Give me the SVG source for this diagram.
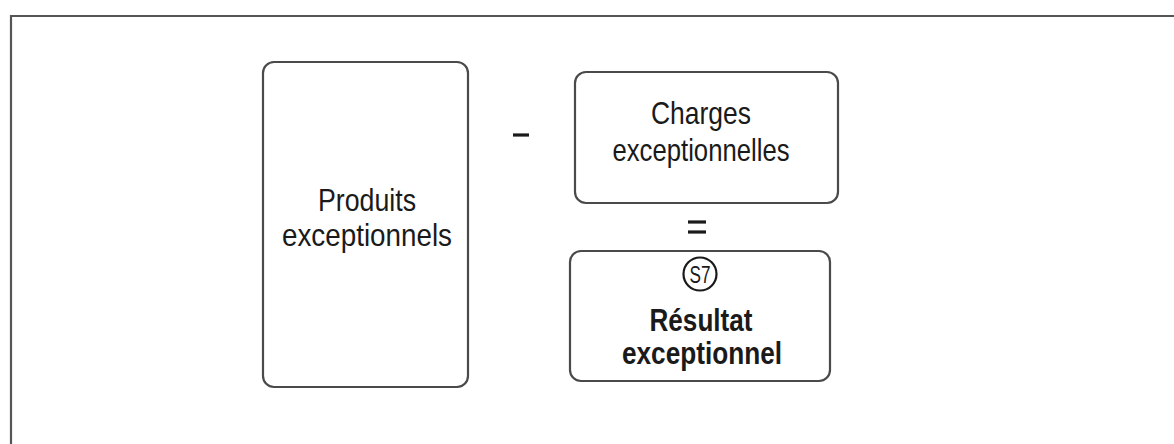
<svg xmlns="http://www.w3.org/2000/svg" width="1174" height="444" viewBox="0 0 1174 444">
<style>
.box{fill:#fff;stroke:#4a4a4a;stroke-width:2.2}
.t{font-family:"Liberation Sans",Arial,sans-serif;font-size:32px;fill:#1a1a1a;text-anchor:middle}
.b{font-weight:bold}
.op{stroke:#1a1a1a;stroke-width:3.2}
</style>
<rect width="1174" height="444" fill="#fff"/>
<path d="M11,444 V16 H1174" fill="none" stroke="#555" stroke-width="2.2"/>
<g id="produits">
<rect class="box" x="263" y="62" width="205" height="325" rx="11"/>
<text class="t" x="367" y="211" textLength="98" lengthAdjust="spacingAndGlyphs">Produits</text>
<text class="t" x="367" y="246" textLength="170" lengthAdjust="spacingAndGlyphs">exceptionnels</text>
</g>
<g id="charges">
<rect class="box" x="575" y="72" width="263" height="131" rx="11"/>
<text class="t" x="701" y="124" textLength="100" lengthAdjust="spacingAndGlyphs">Charges</text>
<text class="t" x="701" y="161" textLength="177" lengthAdjust="spacingAndGlyphs">exceptionnelles</text>
</g>
<g id="resultat">
<rect class="box" x="570" y="251" width="260" height="130" rx="11"/>
<circle cx="700" cy="274" r="16.5" fill="none" stroke="#1a1a1a" stroke-width="2.2"/>
<text class="t" x="700" y="283" style="font-size:24px" textLength="21" lengthAdjust="spacingAndGlyphs">S7</text>
<text class="t b" x="701" y="331" textLength="103" lengthAdjust="spacingAndGlyphs">Résultat</text>
<text class="t b" x="702" y="364" textLength="160" lengthAdjust="spacingAndGlyphs">exceptionnel</text>
</g>
<g id="connectors">
<line class="op" x1="513" y1="135" x2="529" y2="135"/>
<line class="op" x1="688" y1="222" x2="706" y2="222"/>
<line class="op" x1="688" y1="232" x2="706" y2="232"/>
</g>
</svg>
